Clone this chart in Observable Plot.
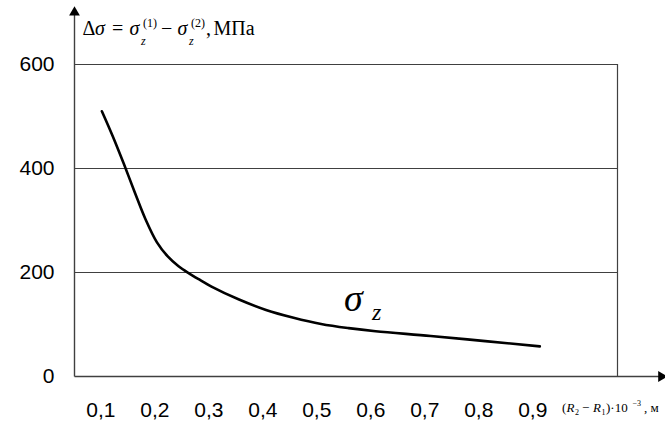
<!DOCTYPE html>
<html><head><meta charset="utf-8">
<script src="https://cdn.jsdelivr.net/npm/d3@7"></script>
<script src="https://cdn.jsdelivr.net/npm/@observablehq/plot@0.6"></script>
<style>body{margin:0;background:#fff;} #chart{width:665px;height:428px;}</style>
</head><body><div id="chart"></div>
<script>
// data
const thickness  = [0.102, 0.1225, 0.143, 0.163, 0.183, 0.204, 0.224, 0.244, 0.264, 0.285, 0.305, 0.356, 0.406, 0.457, 0.508, 0.559, 0.609, 0.711, 0.812, 0.913];
const deltaSigma = [510, 461, 408, 354, 302, 258, 231, 212, 198, 185, 173, 148, 128, 113, 101, 93, 87, 78, 68, 58];
const xTicks = [0.1, 0.2, 0.3, 0.4, 0.5, 0.6, 0.7, 0.8, 0.9];
const xTickLabels = ["0,1", "0,2", "0,3", "0,4", "0,5", "0,6", "0,7", "0,8", "0,9"];
const yTicks = [0, 200, 400, 600];
const yTickLabels = ["0", "200", "400", "600"];
const gridValues = [200, 400, 600];

const data = thickness.map((x, i) => ({x, y: deltaSigma[i]}));
const X0 = 0.0513, X1 = 1.0569, XARROW = 1.138, YARROW = 700;
const axisColor = "#404040";

const chart = Plot.plot({
  width: 665, height: 428,
  marginLeft: 74, marginRight: 48, marginTop: 64, marginBottom: 52,
  x: {domain: [X0, X1], axis: null},
  y: {domain: [0, 600], axis: null},
  style: {background: "#fff"},
  marks: [
    Plot.ruleY(gridValues, {stroke: axisColor, strokeWidth: 1.2}),
    Plot.ruleX([X1], {stroke: axisColor, strokeWidth: 1.2}),
    Plot.link([{x1: X0, y1: 0, x2: X0, y2: YARROW}], {x1: "x1", y1: "y1", x2: "x2", y2: "y2", stroke: axisColor, strokeWidth: 1.4, clip: false}),
    Plot.link([{x1: X0, y1: 0, x2: XARROW, y2: 0}], {x1: "x1", y1: "y1", x2: "x2", y2: "y2", stroke: axisColor, strokeWidth: 1.4, clip: false}),
    Plot.dot([{x: X0, y: YARROW}], {x: "x", y: "y", symbol: "triangle", r: 4, fill: "#000", stroke: null, clip: false}),
    Plot.dot([{x: XARROW, y: 0}], {x: "x", y: "y", symbol: "triangle", r: 4, fill: "#000", stroke: null, rotate: 90, clip: false}),
    Plot.line(data, {x: "x", y: "y", curve: "catmull-rom", stroke: "#000", strokeWidth: 2.6}),
    Plot.text(xTicks, {x: d => d, y: 0, text: (d, i) => xTickLabels[i], dy: 34, fontSize: 21, fontFamily: "Liberation Sans, Arial, sans-serif", fill: "#000", clip: false}),
    Plot.text(yTicks, {x: X0, y: d => d, text: (d, i) => yTickLabels[i], dx: -20, textAnchor: "end", fontSize: 21, fontFamily: "Liberation Sans, Arial, sans-serif", fill: "#000", clip: false})
  ]
});
document.getElementById("chart").appendChild(chart);

// formula annotations (real text, positioned piece by piece)
const svg = d3.select(chart);
const serif = "Liberation Serif, Times New Roman, serif";
function piece(g, x, y, txt, size, italic) {
  g.append("text").attr("x", x).attr("y", y).attr("text-anchor", "start")
    .attr("font-family", serif).attr("font-size", size)
    .attr("font-style", italic ? "italic" : "normal").attr("fill", "#000").text(txt);
}
const g1 = svg.append("g");
const B = 35;
piece(g1, 82.5, B, "Δ", 20, false);
piece(g1, 95, B, "σ", 20, true);
piece(g1, 112, B, "=", 20, false);
piece(g1, 129.5, B, "σ", 20, true);
piece(g1, 141, B + 10, "z", 12, true);
piece(g1, 143, B - 8, "(1)", 12, false);
piece(g1, 161, B, "−", 20, false);
piece(g1, 177.5, B, "σ", 20, true);
piece(g1, 189, B + 10, "z", 12, true);
piece(g1, 191, B - 8, "(2)", 12, false);
piece(g1, 206, B, ",", 20, false);
piece(g1, 213.5, B, "МПа", 20, false);

const g2 = svg.append("g");
const B2 = 412;
piece(g2, 562, B2, "(", 13, false);
piece(g2, 566.5, B2, "R", 13, true);
piece(g2, 575, B2 + 3, "2", 8, false);
piece(g2, 582, B2, "−", 13, false);
piece(g2, 593, B2, "R", 13, true);
piece(g2, 601.5, B2 + 3, "1", 8, false);
piece(g2, 606, B2, ")·10", 13, false);
piece(g2, 632.5, B2 - 6, "−3", 8, false);
piece(g2, 644, B2, ", м", 13, false);

const g3 = svg.append("g");
piece(g3, 344, 311, "σ", 38, true);
piece(g3, 372, 320, "z", 24, true);
</script>
</body></html>
